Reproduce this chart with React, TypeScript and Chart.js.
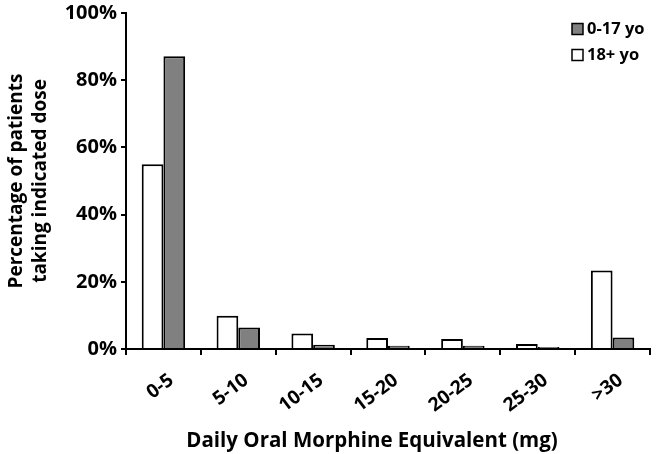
import { useEffect, useRef } from "react";
import { Chart, registerables } from "chart.js";

Chart.register(...registerables);

const categories = ["0-5", "5-10", "10-15", "15-20", "20-25", "25-30", ">30"];
const adultValues = [55.0, 9.9, 4.6, 3.3, 3.0, 1.5, 23.4];
const childValues = [87.1, 6.4, 1.3, 1.0, 1.0, 0.6, 3.4];
const adultLabel = "18+ yo";
const childLabel = "0-17 yo";
const xTitle = "Daily Oral Morphine Equivalent (mg)";
const yTitle = ["Percentage of patients", "taking indicated dose"];

const FONT = "'Open Sans', sans-serif";

const legendPlugin = {
  id: "insideLegend",
  afterDraw(chart: any) {
    const { ctx, chartArea } = chart;
    const order = [1, 0];
    ctx.save();
    ctx.font = `bold 16.5px ${FONT}`;
    ctx.textBaseline = "middle";
    ctx.textAlign = "left";
    order.forEach((di, i) => {
      const ds = chart.data.datasets[di];
      const x = chartArea.right - 78;
      const y = chartArea.top + 16 + i * 26;
      ctx.fillStyle = ds.backgroundColor;
      ctx.fillRect(x, y - 5.5, 11, 11);
      ctx.strokeStyle = "#000";
      ctx.lineWidth = 1.5;
      ctx.strokeRect(x, y - 5.5, 11, 11);
      ctx.fillStyle = "#000";
      ctx.fillText(ds.label, x + 15, y);
    });
    ctx.restore();
  },
};

export default function App() {
  const ref = useRef<HTMLCanvasElement | null>(null);

  useEffect(() => {
    if (!ref.current) return;
    const chart = new Chart(ref.current, {
      type: "bar",
      data: {
        labels: categories,
        datasets: [
          {
            label: adultLabel,
            data: adultValues,
            backgroundColor: "#ffffff",
            borderColor: "#000000",
            borderWidth: 2,
            categoryPercentage: 0.58,
            barPercentage: 1.0,
          },
          {
            label: childLabel,
            data: childValues,
            backgroundColor: "#808080",
            borderColor: "#000000",
            borderWidth: 2,
            categoryPercentage: 0.58,
            barPercentage: 1.0,
          },
        ],
      },
      options: {
        responsive: false,
        animation: false,
        layout: { padding: { left: 4, right: 16, top: 13, bottom: 0 } },
        plugins: {
          legend: { display: false },
          tooltip: { enabled: false },
        },
        scales: {
          x: {
            afterFit: (s: any) => {
              s.height = 105;
            },
            border: { color: "#000", width: 2 },
            grid: {
              offset: true,
              drawOnChartArea: false,
              drawTicks: true,
              tickLength: 6,
              color: "#000",
              lineWidth: 2,
            },
            ticks: {
              color: "#000",
              font: { family: FONT, size: 19, weight: "bold" },
              minRotation: 37,
              maxRotation: 37,
              autoSkip: false,
              padding: 14,
              labelOffset: 8,
            },
            title: {
              display: true,
              text: xTitle + "\u00a0".repeat(6),
              color: "#000",
              font: { family: FONT, size: 20.5, weight: "bold" },
              padding: { top: 0, bottom: 1 },
            },
          },
          y: {
            min: 0,
            max: 100,
            afterFit: (s: any) => {
              s.width = 122;
            },
            border: { color: "#000", width: 2 },
            grid: {
              drawOnChartArea: false,
              drawTicks: true,
              tickLength: 5,
              color: "#000",
              lineWidth: 2,
            },
            ticks: {
              stepSize: 20,
              color: "#000",
              font: { family: FONT, size: 20, weight: "bold", lineHeight: 0.6 },
              padding: 4,
              callback: (v: any) => `${v}%`,
            },
            title: {
              display: true,
              text: yTitle,
              color: "#000",
              font: { family: FONT, size: 19, weight: "bold", lineHeight: 1.3 },
              padding: { top: 0, bottom: 0 },
            },
          },
        },
      },
      plugins: [legendPlugin],
    });
    return () => chart.destroy();
  }, []);

  return (
    <div style={{ position: "fixed", left: 0, top: 0, width: 666, height: 454, background: "#fff" }}>
      <canvas ref={ref} width={666} height={454} style={{ display: "block" }} />
    </div>
  );
}
